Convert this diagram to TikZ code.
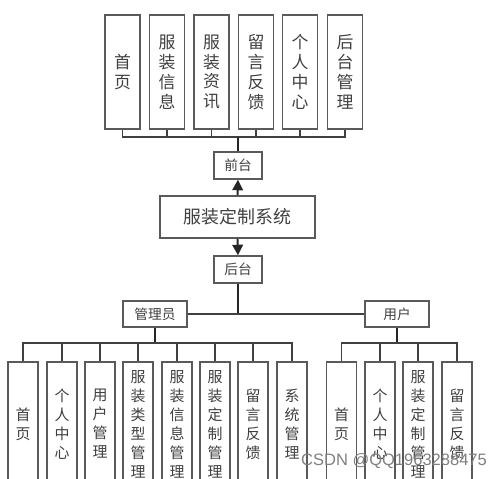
\documentclass[tikz,border=0pt]{standalone}
\usepackage{fontspec}
\setmainfont{Noto Sans CJK SC}
\newfontfamily\wmfont{Liberation Sans}
\usetikzlibrary{arrows.meta}
\definecolor{boxline}{HTML}{5A5A5A}
\definecolor{boxtext}{HTML}{404040}
\tikzset{
	tallbox/.style={draw=boxline, line width=0.7pt, inner sep=0pt, minimum width=0.7cm, minimum height=2.28cm, align=center, text=boxtext, font=\fontsize{9.6}{11.3}\selectfont},
	lowbox/.style={draw=boxline, line width=0.7pt, inner sep=0pt, minimum width=0.6cm, minimum height=2.48cm, align=center, text=boxtext, font=\fontsize{8.5}{10.8}\selectfont},
	smallbox/.style={draw=boxline, line width=0.8pt, inner sep=0pt, minimum width=0.96cm, minimum height=0.54cm, text=boxtext, font=\fontsize{7.8}{9}\selectfont},
	stub/.style={draw=black!75, line width=0.7pt},
	trunk/.style={draw=black!85, line width=1.1pt}
}

\begin{document}
\begin{tikzpicture}[x=0.02cm, y=-0.02cm]
			%%%%% START %%%%%
			\clip (0, 0) rectangle (500, 478);
			\fill[white] (0, 0) rectangle (500, 478);
			
			% front end pages
			\node[tallbox] (t1) at (122.5, 72) {首\\页};
			\node[tallbox] (t2) at (167, 72) {服\\装\\信\\息};
			\node[tallbox] (t3) at (211.5, 72) {服\\装\\资\\讯};
			\node[tallbox] (t4) at (256, 72) {留\\言\\反\\馈};
			\node[tallbox] (t5) at (300, 72) {个\\人\\中\\心};
			\node[tallbox] (t6) at (345, 72) {后\\台\\管\\理};
			
			\node[smallbox] (qt) at (238, 165.5) {前台};
			\node[draw=boxline, line width=0.8pt, inner sep=0pt, minimum width=3.1cm, minimum height=0.84cm, text=boxtext, font=\fontsize{10.2}{12}\selectfont] (sys) at (237.5, 217) {服装定制系统};
			\node[smallbox] (ht) at (238, 269.5) {后台};
			
			\node[smallbox, minimum width=1.28cm, minimum height=0.52cm] (gly) at (155, 314) {管理员};
			\node[smallbox, minimum width=1.28cm, minimum height=0.52cm] (yh) at (397, 314) {用户};
			
			% admin pages
			\node[lowbox] (a1) at (23, 424) {首\\页};
			\node[lowbox] (a2) at (62, 424) {个\\人\\中\\心};
			\node[lowbox] (a3) at (100, 424) {用\\户\\管\\理};
			\node[lowbox] (a4) at (138, 424) {服\\装\\类\\型\\管\\理};
			\node[lowbox] (a5) at (177, 424) {服\\装\\信\\息\\管\\理};
			\node[lowbox] (a6) at (215, 424) {服\\装\\定\\制\\管\\理};
			\node[lowbox] (a7) at (253, 424) {留\\言\\反\\馈};
			\node[lowbox] (a8) at (292, 424) {系\\统\\管\\理};
			
			% user pages
			\node[lowbox] (u1) at (341.5, 424) {首\\页};
			\node[lowbox] (u2) at (380, 424) {个\\人\\中\\心};
			\node[lowbox] (u3) at (418, 424) {服\\装\\定\\制\\管\\理};
			\node[lowbox] (u4) at (457, 424) {留\\言\\反\\馈};
			
			\coordinate (fbus) at (238, 137);
			\coordinate (abus) at (155, 343);
			\coordinate (ubus) at (397, 343);
			
			% front end tree
			\draw[stub] (t1.south) -- (t1.south |- fbus) -- (t6.south |- fbus) -- (t6.south);
			\draw[stub] (t2.south) -- (t2.south |- fbus);
			\draw[stub] (t3.south) -- (t3.south |- fbus);
			\draw[stub] (t4.south) -- (t4.south |- fbus);
			\draw[stub] (t5.south) -- (t5.south |- fbus);
			\draw[trunk] (qt.north) -- (fbus);
			
			\draw[trunk, -{Triangle[length=6pt, width=6pt]}] (sys.north) -- (qt.south);
			\draw[trunk, -{Triangle[length=6pt, width=6pt]}] (sys.south) -- (ht.north);
			
			\draw[trunk] (ht.south) -- (ht.south |- gly.east);
			\draw[stub] (gly.east) -- (yh.west);
			
			% admin tree
			\draw[trunk] (gly.south) -- (abus);
			\draw[stub] (a1.north) -- (a1.north |- abus) -- (a8.north |- abus) -- (a8.north);
			\draw[stub] (a2.north) -- (a2.north |- abus);
			\draw[stub] (a3.north) -- (a3.north |- abus);
			\draw[stub] (a4.north) -- (a4.north |- abus);
			\draw[stub] (a5.north) -- (a5.north |- abus);
			\draw[stub] (a6.north) -- (a6.north |- abus);
			\draw[stub] (a7.north) -- (a7.north |- abus);
			
			% user tree
			\draw[trunk] (yh.south) -- (ubus);
			\draw[stub] (u1.north) -- (u1.north |- ubus) -- (u4.north |- ubus) -- (u4.north);
			\draw[stub] (u2.north) -- (u2.north |- ubus);
			\draw[stub] (u3.north) -- (u3.north |- ubus);
			
			\node[text=black!50, font=\wmfont\fontsize{9.4}{11}\selectfont, inner sep=0pt] (wm) at (394, 461) {CSDN @QQ1963288475};
			%%%%% END %%%%%
\end{tikzpicture}
\end{document}
